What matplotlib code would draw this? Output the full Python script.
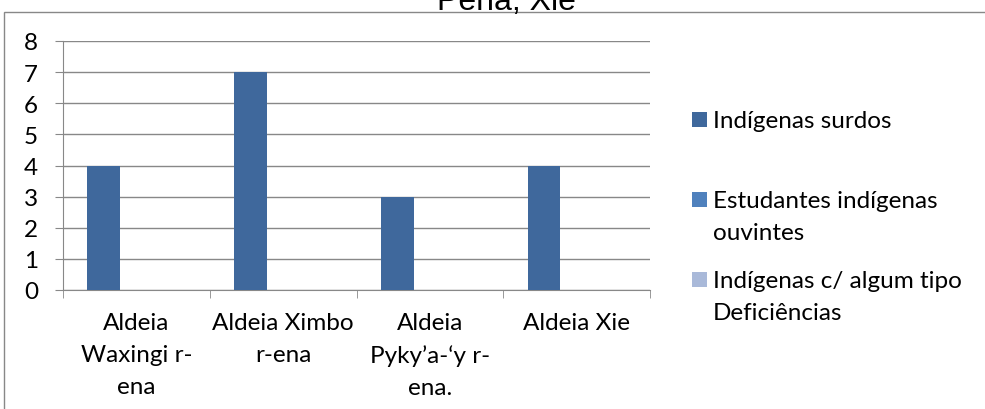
import matplotlib
matplotlib.use("Agg")
import matplotlib.pyplot as plt
from matplotlib.patches import Rectangle
import numpy as np

plt.rcParams['font.family'] = ['Lato', 'DejaVu Sans']

categories = ["Aldeia\nWaxingi r-\nena", "Aldeia Ximbo\nr-ena", "Aldeia\nPyky\u2019a-\u2018y r-\nena.", "Aldeia Xie"]
series_names = ["Indígenas surdos", "Estudantes indígenas\nouvintes", "Indígenas c/ algum tipo\nDeficiências"]
surdos = [4, 7, 3, 4]
ouvintes = [0, 0, 0, 0]
deficiencias = [0, 0, 0, 0]
colors = ["#3F689C", "#4F81BD", "#A9B9D9"]
title = "Pena, Xie"

W, H = 985, 410
fig = plt.figure(figsize=(W/100, H/100), dpi=100)
FS = 17.5
LS = 1.64

# outer chart border (cropped at right/bottom)
fig.patches.append(Rectangle((4/W, -0.1), 1.2, 1.1 - 13/H, transform=fig.transFigure,
                             fill=False, edgecolor="#888888", linewidth=1.0))

ax = fig.add_axes([63/W, 1 - 291/H, (650-63)/W, (291-42)/H])
x = np.arange(len(categories))
bw = 1/4.5
data = [surdos, ouvintes, deficiencias]
for i, (vals, c) in enumerate(zip(data, colors)):
    ax.bar(x - bw + i*bw, vals, width=bw, color=c, zorder=3)

ax.set_xlim(-0.5, len(categories) - 0.5)
ax.set_ylim(0, 8)
ax.set_yticks(range(0, 9))
ax.yaxis.grid(True, color="#888888", linewidth=1.0, zorder=0)
for s in ["top", "right"]:
    ax.spines[s].set_visible(False)
for s in ["left", "bottom"]:
    ax.spines[s].set_color("#888888")
ax.tick_params(axis="y", length=6, color="#888888", labelsize=FS, pad=12)
ax.set_xticks(x)
ax.set_xticklabels(categories, fontsize=FS, linespacing=LS)
ax.set_xticks(np.arange(-0.5, len(categories)), minor=True)
ax.tick_params(axis="x", which="major", length=0, pad=15.8)
ax.tick_params(axis="x", which="minor", length=6, color="#888888")

fig.text(506/W, 1 - 9.5/H, title, ha="center", va="baseline", fontsize=23,
         family=["Liberation Sans", "DejaVu Sans"])

# legend (baseline of first line of each entry)
baselines = [128, 208, 288]
for name, c, yy in zip(series_names, colors, baselines):
    fig.patches.append(Rectangle((692/W, 1 - yy/H), 15/W, 15/H, transform=fig.transFigure,
                                 facecolor=c, edgecolor="none"))
    fig.text(713/W, 1 - (yy-17)/H, name, ha="left", va="top", fontsize=FS, linespacing=LS)

fig.savefig("out.png", dpi=100)
